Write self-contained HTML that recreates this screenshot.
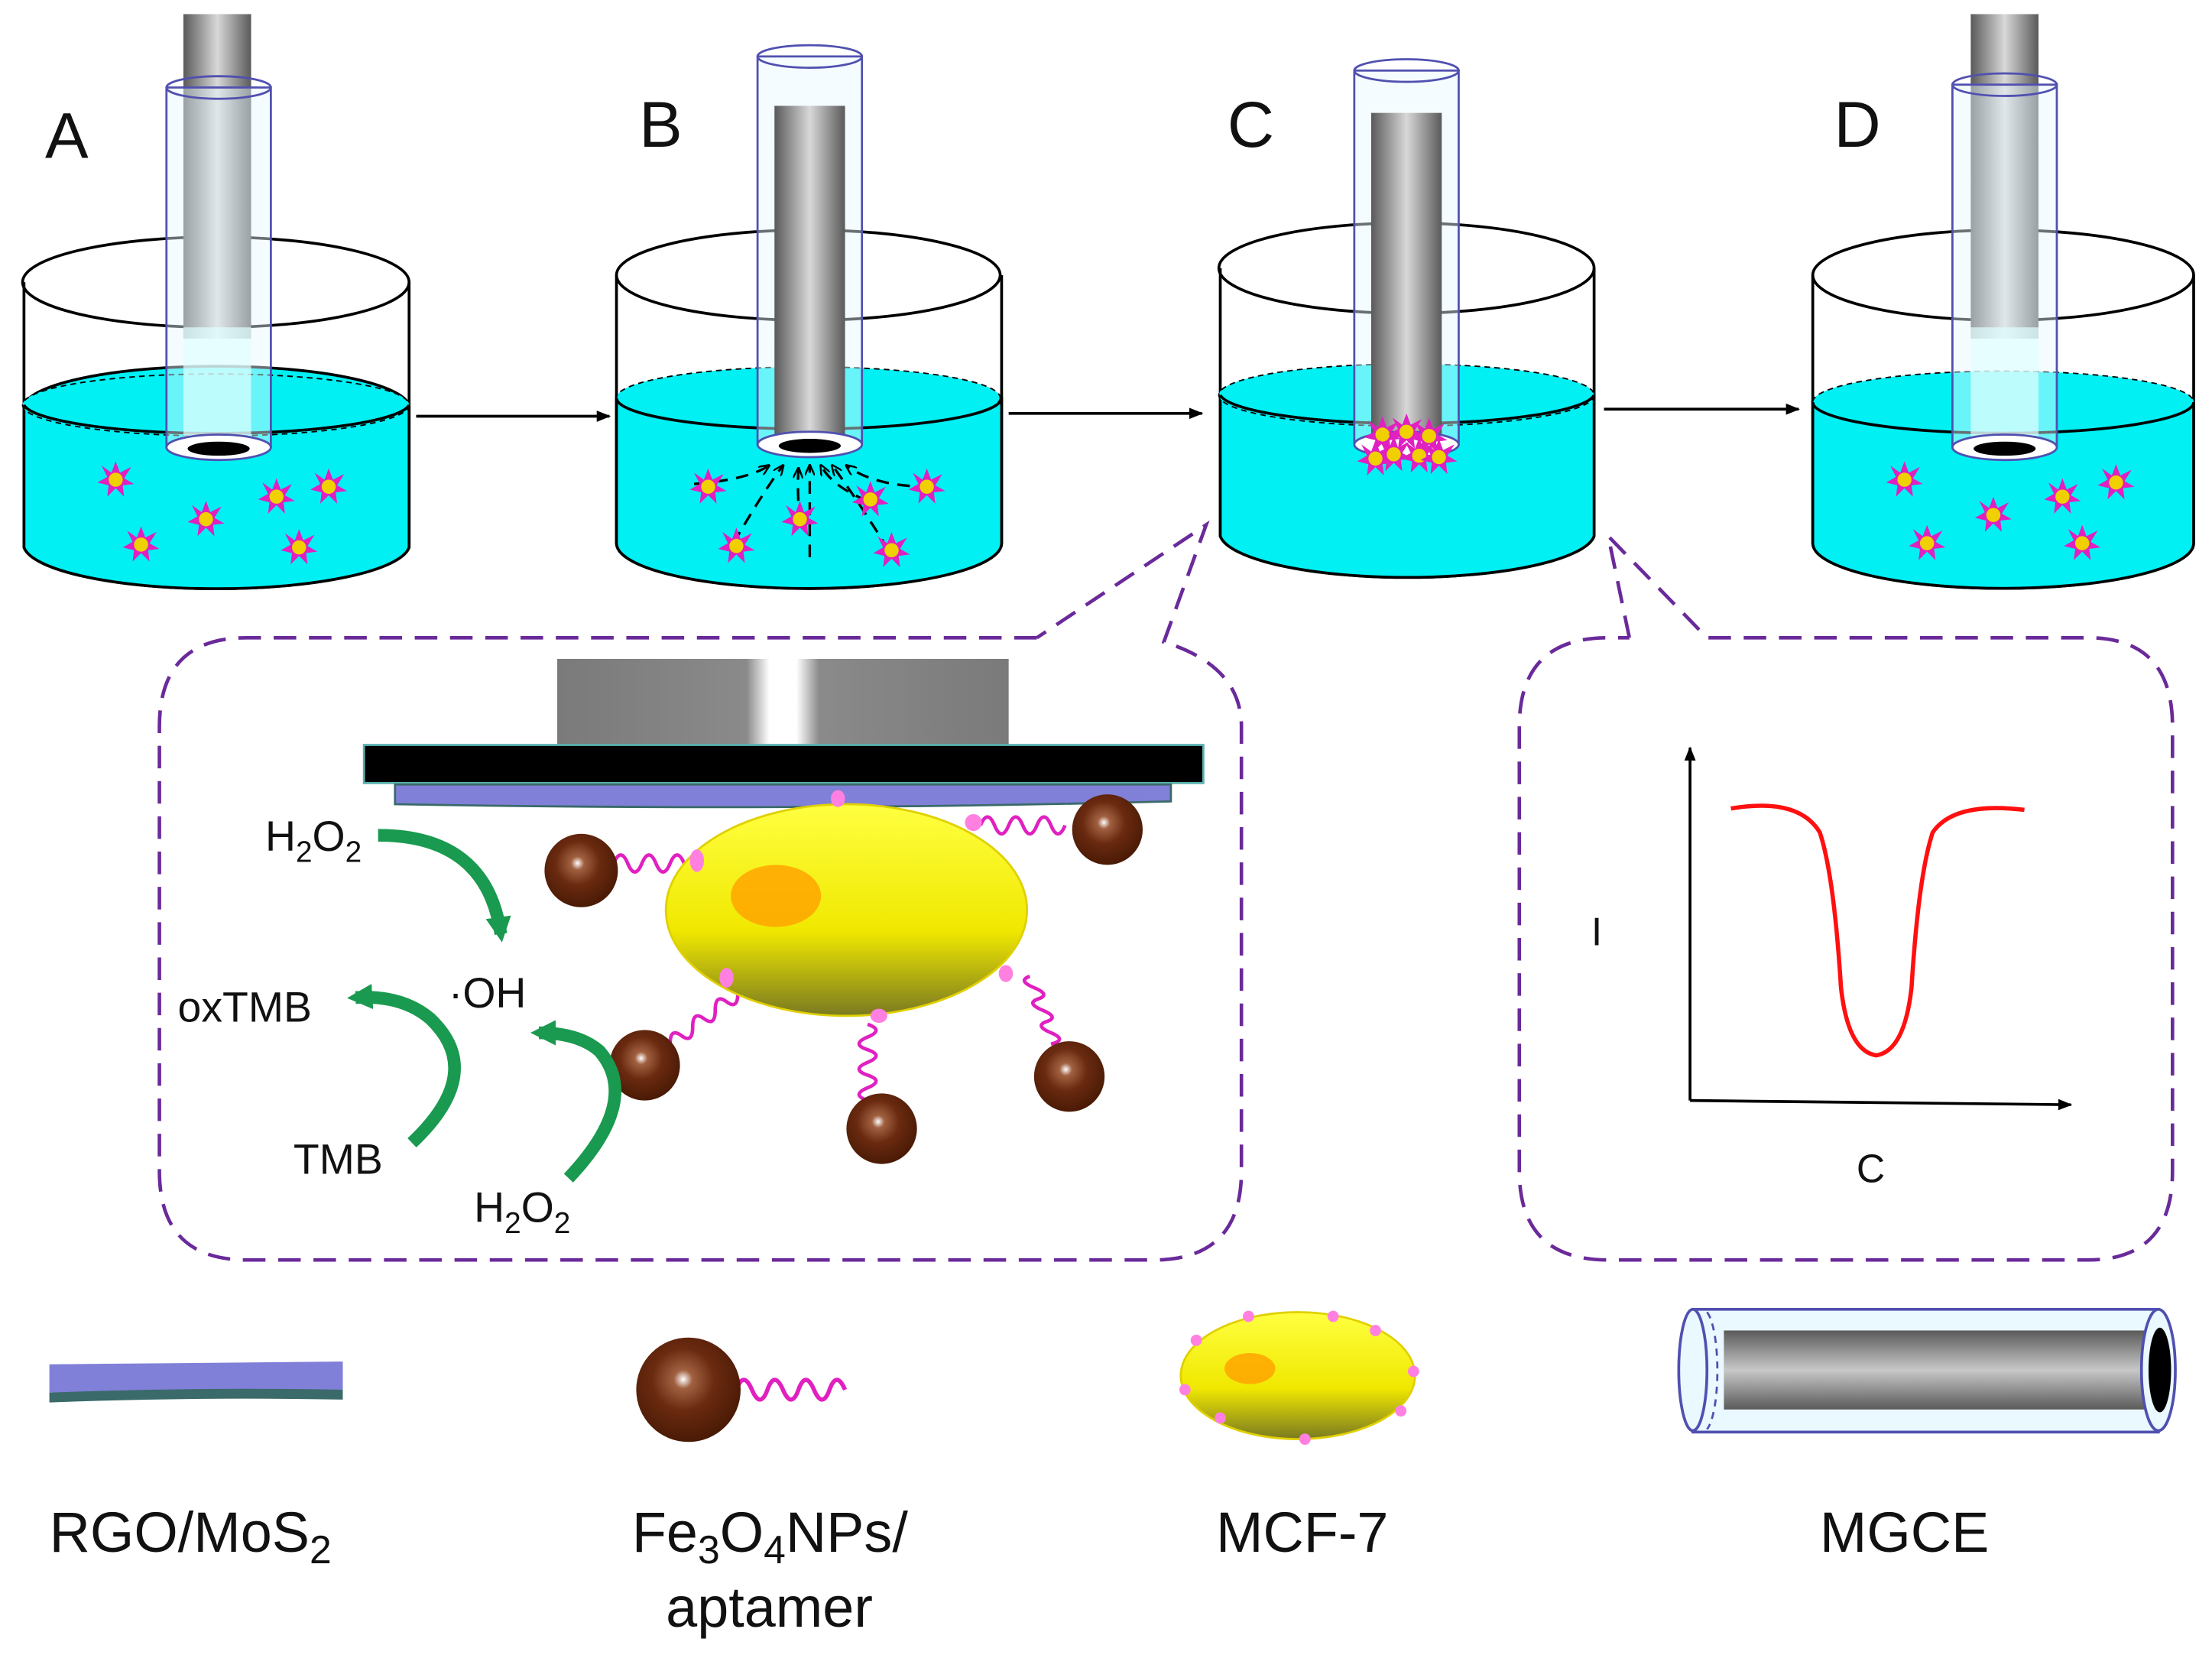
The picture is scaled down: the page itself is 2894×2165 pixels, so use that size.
<!DOCTYPE html>
<html><head><meta charset="utf-8"><style>
html,body{margin:0;padding:0;background:#fff;}
svg{display:block;}
text{font-family:"Liberation Sans",Arial,sans-serif;fill:#111;}
</style></head><body>
<svg width="2894" height="2165" viewBox="0 0 1568 1173" xmlns="http://www.w3.org/2000/svg">
<defs>
<linearGradient id="rod" x1="0" x2="1" y1="0" y2="0">
<stop offset="0" stop-color="#5a5a5a"/><stop offset="0.5" stop-color="#d8d8d8"/><stop offset="1" stop-color="#5a5a5a"/></linearGradient>
<linearGradient id="rodh" x1="0" x2="0" y1="0" y2="1">
<stop offset="0" stop-color="#5a5a5a"/><stop offset="0.5" stop-color="#c8c8c8"/><stop offset="1" stop-color="#5a5a5a"/></linearGradient>
<linearGradient id="cell" x1="0" x2="0" y1="0" y2="1">
<stop offset="0" stop-color="#ffff40"/><stop offset="0.6" stop-color="#f0e800"/><stop offset="1" stop-color="#7a7a20"/></linearGradient>
<radialGradient id="ball" cx="0.45" cy="0.4" r="0.6">
<stop offset="0" stop-color="#ffffff"/><stop offset="0.15" stop-color="#a06040"/><stop offset="0.5" stop-color="#6a2a10"/><stop offset="1" stop-color="#4a1a05"/></radialGradient>
<linearGradient id="block" x1="0" x2="1"><stop offset="0" stop-color="#7a7a7a"/><stop offset="0.42" stop-color="#8a8a8a"/><stop offset="0.47" stop-color="#fff"/><stop offset="0.53" stop-color="#fff"/><stop offset="0.58" stop-color="#8a8a8a"/><stop offset="1" stop-color="#7a7a7a"/></linearGradient>
<g id="p">
<polygon points="0,-13 3,-5 11,-9 6,-1 13,3 5,4 6,12 0,6 -6,12 -5,4 -13,2 -6,-2 -10,-10 -3,-5" fill="#e020c0"/>
<circle r="5" fill="#f0d000"/></g>
<marker id="ar" markerWidth="10" markerHeight="8" refX="9" refY="4" orient="auto" markerUnits="userSpaceOnUse"><path d="M0,0 L10,4 L0,8 Z" fill="#000"/></marker>
<marker id="ars" markerWidth="8" markerHeight="7" refX="7" refY="3.5" orient="auto" markerUnits="userSpaceOnUse"><path d="M0,0 L8,3.5 L0,7" fill="none" stroke="#000" stroke-width="1.3"/></marker>
<marker id="arg" markerWidth="18" markerHeight="18" refX="12" refY="9" orient="auto" markerUnits="userSpaceOnUse"><path d="M0,0 L18,9 L0,18 Z" fill="#1a9a50"/></marker>
</defs>

<text x="32" y="112" font-size="46">A</text>
<text x="453" y="104" font-size="46">B</text>
<text x="870" y="104" font-size="46">C</text>
<text x="1300" y="104" font-size="46">D</text>

<g>
<path d="M17,200 L17,388 A137,32 0 0 0 290,388 L290,200" fill="#fff" stroke="#000" stroke-width="2"/>
<path d="M17,287 L17,388 A137,32 0 0 0 290,388 L290,287 A137,30 0 0 0 17,287 Z" fill="#00f0f4" stroke="#000" stroke-width="2"/>
<ellipse cx="153" cy="287" rx="137" ry="22" fill="#00f0f4" stroke="#000" stroke-width="1" stroke-dasharray="4,3"/>
<path d="M17,287 A137,22 0 0 0 290,287" fill="none" stroke="#000" stroke-width="2"/>
<ellipse cx="153" cy="200" rx="137" ry="32" fill="none" stroke="#000" stroke-width="2"/>
<rect x="130" y="10" width="48" height="230" fill="url(#rod)"/>
<rect x="118" y="62" width="74" height="255" fill="#e8f8ff" fill-opacity="0.45" stroke="#5050b0" stroke-width="1.5"/>
<rect x="130" y="232" width="48" height="85" fill="#e0ffff" fill-opacity="0.7"/>
<ellipse cx="155" cy="62" rx="37" ry="8" fill="none" stroke="#5050b0" stroke-width="1.5"/>
<ellipse cx="155" cy="317" rx="37" ry="9" fill="#fff" stroke="#5050b0" stroke-width="1.5"/>
<ellipse cx="155" cy="318" rx="22" ry="5" fill="#000"/>
<use href="#p" x="82" y="340"/><use href="#p" x="196" y="352"/><use href="#p" x="233" y="345"/><use href="#p" x="146" y="368"/><use href="#p" x="100" y="386"/><use href="#p" x="212" y="388"/>
</g>
<line x1="295" y1="295" x2="432" y2="295" stroke="#000" stroke-width="2" marker-end="url(#ar)"/>

<g>
<path d="M437,195 L437,385 A136,32 0 0 0 710,385 L710,195" fill="#fff" stroke="#000" stroke-width="2"/>
<path d="M437,282 L437,385 A136,32 0 0 0 710,385 L710,282 Z" fill="#00f0f4" stroke="#000" stroke-width="2"/>
<ellipse cx="573" cy="282" rx="136" ry="22" fill="#00f0f4" stroke="#000" stroke-width="1" stroke-dasharray="4,3"/>
<path d="M437,282 A136,22 0 0 0 710,282" fill="none" stroke="#000" stroke-width="2"/>
<ellipse cx="573" cy="195" rx="136" ry="32" fill="none" stroke="#000" stroke-width="2"/>
<rect x="537" y="40" width="74" height="275" fill="#e8f8ff" fill-opacity="0.45" stroke="#5050b0" stroke-width="1.5"/>
<rect x="549" y="75" width="50" height="240" fill="url(#rod)"/>
<ellipse cx="574" cy="40" rx="37" ry="8" fill="none" stroke="#5050b0" stroke-width="1.5"/>
<ellipse cx="574" cy="315" rx="37" ry="9" fill="#fff" stroke="#5050b0" stroke-width="1.5"/>
<ellipse cx="574" cy="316" rx="22" ry="5" fill="#000"/>
<g fill="none" stroke="#000" stroke-width="1.8" stroke-dasharray="9,6">
<path d="M492,343 Q530,340 545,330" marker-end="url(#ars)"/>
<path d="M520,385 Q540,350 555,330" marker-end="url(#ars)"/>
<path d="M567,370 Q565,350 566,332" marker-end="url(#ars)"/>
<path d="M574,395 L574,330" marker-end="url(#ars)"/>
<path d="M615,355 Q590,345 582,330" marker-end="url(#ars)"/>
<path d="M630,390 Q605,350 590,330" marker-end="url(#ars)"/>
<path d="M660,345 Q620,345 600,330" marker-end="url(#ars)"/>
</g>
<use href="#p" x="502" y="345"/><use href="#p" x="522" y="387"/><use href="#p" x="567" y="368"/><use href="#p" x="617" y="354"/><use href="#p" x="632" y="390"/><use href="#p" x="657" y="345"/>
</g>
<line x1="715" y1="293" x2="852" y2="293" stroke="#000" stroke-width="2" marker-end="url(#ar)"/>

<g>
<path d="M865,190 L865,380 A133,32 0 0 0 1130,380 L1130,190" fill="#fff" stroke="#000" stroke-width="2"/>
<path d="M865,280 L865,380 A133,32 0 0 0 1130,380 L1130,280 Z" fill="#00f0f4" stroke="#000" stroke-width="2"/>
<ellipse cx="997" cy="280" rx="133" ry="22" fill="#00f0f4" stroke="#000" stroke-width="1" stroke-dasharray="4,3"/>
<path d="M865,280 A133,22 0 0 0 1130,280" fill="none" stroke="#000" stroke-width="2"/>
<ellipse cx="997" cy="190" rx="133" ry="32" fill="none" stroke="#000" stroke-width="2"/>
<rect x="960" y="50" width="74" height="265" fill="#e8f8ff" fill-opacity="0.45" stroke="#5050b0" stroke-width="1.5"/>
<rect x="972" y="80" width="50" height="232" fill="url(#rod)"/>
<ellipse cx="997" cy="50" rx="37" ry="8" fill="none" stroke="#5050b0" stroke-width="1.5"/>
<ellipse cx="997" cy="315" rx="37" ry="9" fill="#fff" stroke="#5050b0" stroke-width="1.5"/>
<use href="#p" x="980" y="308"/><use href="#p" x="997" y="306"/><use href="#p" x="1013" y="309"/><use href="#p" x="988" y="322"/><use href="#p" x="1006" y="323"/><use href="#p" x="975" y="325"/><use href="#p" x="1020" y="324"/>
</g>
<line x1="1137" y1="290" x2="1275" y2="290" stroke="#000" stroke-width="2" marker-end="url(#ar)"/>

<g>
<path d="M1285,195 L1285,385 A135,32 0 0 0 1555,385 L1555,195" fill="#fff" stroke="#000" stroke-width="2"/>
<path d="M1285,285 L1285,385 A135,32 0 0 0 1555,385 L1555,285 Z" fill="#00f0f4" stroke="#000" stroke-width="2"/>
<ellipse cx="1420" cy="285" rx="135" ry="22" fill="#00f0f4" stroke="#000" stroke-width="1" stroke-dasharray="4,3"/>
<path d="M1285,285 A135,22 0 0 0 1555,285" fill="none" stroke="#000" stroke-width="2"/>
<ellipse cx="1420" cy="195" rx="135" ry="32" fill="none" stroke="#000" stroke-width="2"/>
<rect x="1397" y="10" width="48" height="230" fill="url(#rod)"/>
<rect x="1384" y="60" width="74" height="257" fill="#e8f8ff" fill-opacity="0.45" stroke="#5050b0" stroke-width="1.5"/>
<rect x="1397" y="232" width="48" height="85" fill="#e0ffff" fill-opacity="0.7"/>
<ellipse cx="1421" cy="60" rx="37" ry="8" fill="none" stroke="#5050b0" stroke-width="1.5"/>
<ellipse cx="1421" cy="317" rx="37" ry="9" fill="#fff" stroke="#5050b0" stroke-width="1.5"/>
<ellipse cx="1421" cy="318" rx="22" ry="5" fill="#000"/>
<use href="#p" x="1350" y="340"/><use href="#p" x="1413" y="365"/><use href="#p" x="1462" y="352"/><use href="#p" x="1500" y="342"/><use href="#p" x="1366" y="385"/><use href="#p" x="1476" y="385"/>
</g>

<g fill="none" stroke="#6a2a9a" stroke-width="2.5" stroke-dasharray="16,9">
<path d="M735,452 L175,452 Q113,452 113,515 L113,830 Q113,893 175,893 L818,893 Q880,893 880,830 L880,515 Q880,472 825,455 L855,372 L735,452"/>
<path d="M1155,452 L1140,380 L1210,452 L1480,452 Q1540,452 1540,515 L1540,830 Q1540,893 1480,893 L1140,893 Q1077,893 1077,830 L1077,515 Q1077,452 1140,452 L1155,452"/>
</g>

<rect x="395" y="467" width="320" height="61" fill="url(#block)"/>
<rect x="258" y="528" width="595" height="27" fill="#000" stroke="#5ab0b0" stroke-width="1.5"/>
<path d="M280,556 L830,556 L830,568 Q560,575 280,570 Z" fill="#8080d8" stroke="#3a6a6a" stroke-width="1.5"/>
<g fill="none" stroke="#e020c0" stroke-width="2.5">
<path d="M435,612 q5,-12 10,0 t10,0 t10,0 t10,0 t10,0 t10,0 t10,0"/>
<path d="M695,585 q5,-12 10,0 t10,0 t10,0 t10,0 t10,0 t10,0"/>
<path d="M475,740 q0,-12 8,-6 t8,-6 t8,-6 t8,-6 t8,-6 t8,-6"/>
<path d="M615,780 q-12,-4 0,-9 t0,-9 t0,-9 t0,-9 t0,-9 t0,-9"/>
<path d="M745,740 q12,-3 0,-8 t-3,-8 t-3,-8 t-3,-8 t-3,-8 t-3,-8"/>
</g>
<ellipse cx="600" cy="645" rx="128" ry="75" fill="url(#cell)" stroke="#e0d000" stroke-width="1.5"/>
<ellipse cx="550" cy="635" rx="32" ry="22" fill="#ffa500" fill-opacity="0.85"/>
<g fill="#ff80e0">
<ellipse cx="494" cy="610" rx="5" ry="8"/><ellipse cx="690" cy="583" rx="6" ry="6"/><ellipse cx="594" cy="566" rx="5" ry="6"/>
<ellipse cx="515" cy="693" rx="5" ry="7"/><ellipse cx="623" cy="720" rx="6" ry="5"/><ellipse cx="713" cy="690" rx="5" ry="6"/>
</g>
<circle cx="412" cy="617" r="26" fill="url(#ball)"/>
<circle cx="785" cy="588" r="25" fill="url(#ball)"/>
<circle cx="457" cy="755" r="25" fill="url(#ball)"/>
<circle cx="625" cy="800" r="25" fill="url(#ball)"/>
<circle cx="758" cy="763" r="25" fill="url(#ball)"/>

<g fill="none" stroke="#1a9a50" stroke-width="9">
<path d="M268,592 Q345,592 355,662" marker-end="url(#arg)"/>
<path d="M292,810 Q345,760 305,722 Q285,705 252,707" marker-end="url(#arg)"/>
<path d="M403,835 Q455,780 425,745 Q410,732 382,732" marker-end="url(#arg)"/>
</g>
<text x="188" y="603" font-size="30">H<tspan font-size="21" dy="8">2</tspan><tspan dy="-8">O</tspan><tspan font-size="21" dy="8">2</tspan></text>
<text x="318" y="714" font-size="30">·OH</text>
<text x="126" y="724" font-size="30">oxTMB</text>
<text x="208" y="832" font-size="30">TMB</text>
<text x="336" y="866" font-size="30">H<tspan font-size="21" dy="8">2</tspan><tspan dy="-8">O</tspan><tspan font-size="21" dy="8">2</tspan></text>

<line x1="1198" y1="780" x2="1198" y2="530" stroke="#000" stroke-width="2" marker-end="url(#ar)"/>
<line x1="1198" y1="780" x2="1468" y2="783" stroke="#000" stroke-width="2" marker-end="url(#ar)"/>
<path d="M1227,573 Q1275,565 1290,590 Q1300,620 1305,700 Q1310,745 1330,748 Q1350,745 1355,700 Q1360,620 1370,590 Q1385,568 1435,574" fill="none" stroke="#ff1010" stroke-width="3"/>
<text x="1128" y="670" font-size="28">I</text>
<text x="1316" y="838" font-size="28">C</text>

<path d="M35,967 L243,965 L243,985 L35,987 Z" fill="#8080d8"/>
<path d="M35,987 Q140,983 243,985 L243,992 Q140,990 35,994 Z" fill="#3a6a6a"/>
<path d="M522,985 q5,-14 11,0 t11,0 t11,0 t11,0 t11,0 t11,0 t11,0" fill="none" stroke="#e020c0" stroke-width="3"/>
<circle cx="488" cy="985" r="37" fill="url(#ball)"/>
<ellipse cx="920" cy="975" rx="83" ry="45" fill="url(#cell)" stroke="#e0d000" stroke-width="1.5"/>
<ellipse cx="886" cy="970" rx="18" ry="11" fill="#ffa500" fill-opacity="0.85"/>
<g fill="#ff80e0"><circle cx="848" cy="950" r="4"/><circle cx="885" cy="933" r="4"/><circle cx="945" cy="933" r="4"/><circle cx="975" cy="943" r="4"/><circle cx="1002" cy="972" r="4"/><circle cx="993" cy="1000" r="4"/><circle cx="925" cy="1020" r="4"/><circle cx="865" cy="1005" r="4"/><circle cx="840" cy="985" r="4"/></g>
<rect x="1200" y="928" width="330" height="87" fill="#eaf8ff" stroke="#5050b0" stroke-width="2"/>
<ellipse cx="1200" cy="971" rx="10" ry="43" fill="#eaf8ff" stroke="#5050b0" stroke-width="2"/>
<path d="M1210,930 A10,43 0 0 1 1210,1013" fill="none" stroke="#5050b0" stroke-width="1.5" stroke-dasharray="5,4"/>
<rect x="1222" y="943" width="300" height="56" fill="url(#rodh)"/>
<ellipse cx="1530" cy="971" rx="12" ry="43" fill="#eaf8ff" stroke="#5050b0" stroke-width="2"/>
<ellipse cx="1531" cy="971" rx="8" ry="30" fill="#000"/>

<text x="35" y="1100" font-size="40">RGO/MoS<tspan font-size="28" dy="8">2</tspan></text>
<text x="448" y="1100" font-size="40">Fe<tspan font-size="28" dy="8">3</tspan><tspan dy="-8">O</tspan><tspan font-size="28" dy="8">4</tspan><tspan dy="-8">NPs/</tspan></text>
<text x="472" y="1153" font-size="40">aptamer</text>
<text x="862" y="1100" font-size="40">MCF-7</text>
<text x="1290" y="1100" font-size="40">MGCE</text>
</svg>
</body></html>
